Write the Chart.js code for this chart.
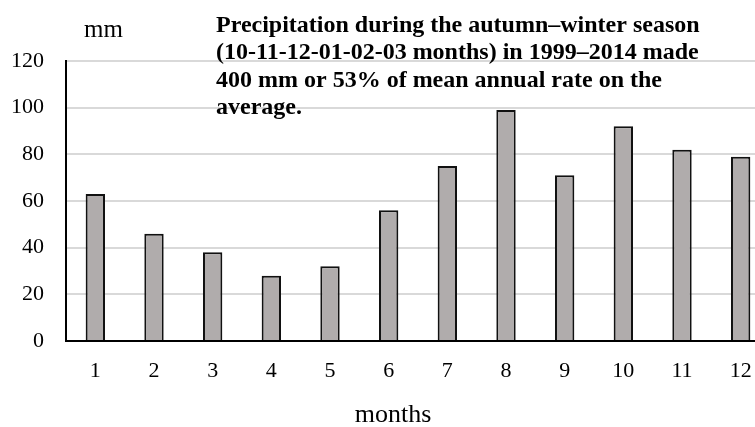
<!DOCTYPE html>
<html>
<head>
<meta charset="utf-8">
<script src="https://cdn.jsdelivr.net/npm/chart.js@4.4.1/dist/chart.umd.min.js"></script>
<style>
  html, body { margin: 0; padding: 0; background: #fff; overflow: hidden; }
  #wrap { width: 755px; height: 427px; overflow: hidden; }
</style>
</head>
<body>
<div id="wrap"><canvas id="chart" width="770" height="427"></canvas></div>
<script>
const months = ['1', '2', '3', '4', '5', '6', '7', '8', '9', '10', '11', '12'];
const precipitation = [63, 46, 38, 28, 32, 56, 75, 99, 71, 92, 82, 79];
const noteLines = [
    'Precipitation during the autumn\u2013winter season',
    '(10-11-12-01-02-03 months) in 1999\u20132014 made',
    '400 mm or 53% of mean annual rate on the',
    'average.'
];
const yUnit = 'mm';
const xTitle = 'months';

const serif = 'Liberation Serif, Times New Roman, serif';

// free text: the note, unit label and axis name
const drawNotes = {
    id: 'notes',
    afterDraw(chart) {
        const ctx = chart.ctx;
        ctx.save();
        ctx.fillStyle = '#000';
        ctx.textBaseline = 'alphabetic';

        ctx.font = 'bold 24px ' + serif;
        ctx.textAlign = 'left';
        noteLines.forEach((line, i) => {
            ctx.fillText(line, 216, 32 + i * 27.3);
        });

        ctx.textAlign = 'center';
        ctx.font = '25px ' + serif;
        ctx.fillText(yUnit, 103.5, 37);
        ctx.font = '26px ' + serif;
        ctx.fillText(xTitle, 393, 422);
        ctx.restore();
    }
};

const chart = new Chart(document.getElementById('chart'), {
    type: 'bar',
    data: {
        labels: months,
        datasets: [
            {
                data: precipitation,
                backgroundColor: '#b0acac',
                borderColor: '#111',
                borderWidth: 2,
                barPercentage: 0.33,
                categoryPercentage: 1,
            }
        ],
    },
    plugins: [drawNotes],
    options: {
        responsive: false,
        animation: false,
        layout: {
            padding: { top: 61, left: 0, right: 0, bottom: 0 },
        },
        plugins: {
            legend: { display: false },
            tooltip: { enabled: false },
        },
        scales: {
            x: {
                grid: { display: false, drawTicks: false },
                border: { display: true, color: '#000', width: 2 },
                ticks: {
                    color: '#000',
                    padding: 17,
                    font: { family: serif, size: 22 },
                },
                afterFit: (scale) => { scale.height = 86; },
            },
            y: {
                min: 0,
                max: 120,
                ticks: {
                    stepSize: 20,
                    color: '#000',
                    padding: 22,
                    font: { family: serif, size: 22 },
                },
                grid: { color: '#d9d9d9', lineWidth: 2, drawTicks: false },
                border: { display: true, color: '#000', width: 2 },
                afterFit: (scale) => { scale.width = 66; },
            },
        },
    },
});
</script>
</body>
</html>
